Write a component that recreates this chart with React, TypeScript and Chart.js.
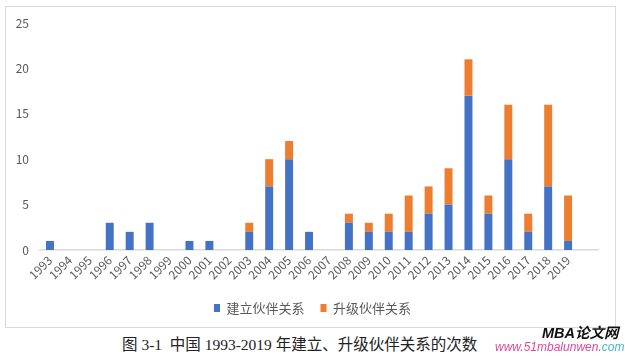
import React, { useEffect, useRef } from "react";
import { Chart, registerables } from "chart.js";

Chart.register(...registerables);

const years = [
  "1993", "1994", "1995", "1996", "1997", "1998", "1999", "2000", "2001",
  "2002", "2003", "2004", "2005", "2006", "2007", "2008", "2009", "2010",
  "2011", "2012", "2013", "2014", "2015", "2016", "2017", "2018", "2019", "",
];
const establishValues = [1, 0, 0, 3, 2, 3, 0, 1, 1, 0, 2, 7, 10, 2, 0, 3, 2, 2, 2, 4, 5, 17, 4, 10, 2, 7, 1, null];
const upgradeValues = [0, 0, 0, 0, 0, 0, 0, 0, 0, 0, 1, 3, 2, 0, 0, 1, 1, 2, 4, 3, 4, 4, 2, 6, 2, 9, 5, null];
const seriesNames = ["建立伙伴关系", "升级伙伴关系"];
const yTicks = [0, 5, 10, 15, 20, 25];
const caption = "图 3-1  中国 1993-2019 年建立、升级伙伴关系的次数";

const FONT = '"Noto Sans CJK SC", "Noto Sans", sans-serif';
const TEXT = "#595959";

export default function App() {
  const canvasRef = useRef<HTMLCanvasElement | null>(null);

  useEffect(() => {
    const canvas = canvasRef.current;
    if (!canvas) return;
    const chart = new Chart(canvas, {
      type: "bar",
      data: {
        labels: years,
        datasets: [
          {
            label: seriesNames[0],
            data: establishValues,
            backgroundColor: "#4472C4",
            borderWidth: 0,
            barPercentage: 0.4,
            categoryPercentage: 1,
          },
          {
            label: seriesNames[1],
            data: upgradeValues,
            backgroundColor: "#ED7D31",
            borderWidth: 0,
            barPercentage: 0.4,
            categoryPercentage: 1,
          },
        ],
      },
      options: {
        animation: false,
        responsive: false,
        maintainAspectRatio: false,
        layout: { padding: { top: 23, left: 0, right: 0, bottom: 5.5 } },
        plugins: {
          tooltip: { enabled: false },
          legend: {
            position: "bottom",
            labels: {
              boxWidth: 6,
              boxHeight: 8,
              padding: 16,
              color: TEXT,
              font: { family: FONT, size: 13 },
            },
          },
        },
        scales: {
          x: {
            stacked: true,
            grid: { display: false, drawTicks: false },
            border: { display: true, color: "#D9D9D9", width: 1.5 },
            ticks: {
              autoSkip: false,
              minRotation: 45,
              maxRotation: 45,
              padding: 3,
              color: TEXT,
              font: { family: FONT, size: 12 },
            },
            afterFit: (scale: any) => {
              scale.height = 35.5;
            },
          },
          y: {
            stacked: true,
            min: 0,
            max: yTicks[yTicks.length - 1],
            grid: { display: false, drawTicks: false },
            border: { display: false },
            afterBuildTicks: (scale: any) => {
              scale.ticks = yTicks.map((v) => ({ value: v }));
            },
            ticks: {
              padding: 11,
              color: TEXT,
              font: { family: FONT, size: 12 },
            },
            afterFit: (scale: any) => {
              scale.width = 40;
            },
          },
          yRightSpace: {
            type: "linear",
            position: "right",
            display: true,
            grid: { display: false, drawTicks: false },
            border: { display: false },
            ticks: { display: false },
            afterFit: (scale: any) => {
              scale.width = 27;
            },
          },
        },
      },
    });
    return () => chart.destroy();
  }, []);

  return (
    <div style={{ position: "fixed", left: 0, top: 0, width: 625, height: 356, background: "#fff", overflow: "hidden" }}>
      <div
        style={{
          position: "absolute",
          left: 5,
          top: 6,
          width: 611,
          height: 322,
          boxSizing: "border-box",
          border: "1px solid #D9D9D9",
        }}
      />
      <canvas
        ref={canvasRef}
        width={625}
        height={330}
        style={{ position: "absolute", left: 0, top: 0, width: 625, height: 330 }}
      />
      <div
        style={{
          position: "absolute",
          left: 122,
          top: 335,
          fontFamily: '"Liberation Serif", "Noto Sans CJK SC", serif',
          fontSize: 15.5,
          lineHeight: "20px",
          color: "#222",
          whiteSpace: "pre",
        }}
      >
        {caption}
      </div>
      <div
        style={{
          position: "absolute",
          left: 542,
          top: 324,
          fontFamily: '"Liberation Sans", "Noto Sans CJK SC", sans-serif',
          fontSize: 14.5,
          fontWeight: "bold",
          fontStyle: "italic",
          lineHeight: "18px",
          color: "#111",
          whiteSpace: "pre",
        }}
      >
        MBA论文网
      </div>
      <div
        style={{
          position: "absolute",
          left: 495,
          top: 340,
          fontFamily: '"Liberation Sans", sans-serif',
          fontSize: 12,
          fontStyle: "italic",
          lineHeight: "15px",
          whiteSpace: "pre",
        }}
      >
        <span style={{ color: "#E0489A" }}>www.51mbalunwen.</span>
        <span style={{ color: "#3BB8CC" }}>com</span>
      </div>
    </div>
  );
}
